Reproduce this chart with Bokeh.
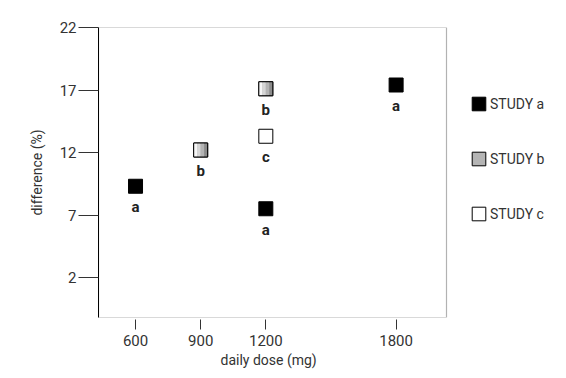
from bokeh.plotting import figure
from bokeh.models import (Range1d, FixedTicker, Legend, LegendItem, ColumnDataSource,
                          BoxAnnotation, Title)
from bokeh.transform import dodge
from bokeh.core.properties import value
from bokeh.embed import file_html
from bokeh.resources import INLINE

# ---- data ----
dose_a = [600, 1200, 1800]
diff_a = [9.3, 7.5, 17.4]
lab_a = ["a", "a", "a"]

dose_b = [900, 1200]
diff_b = [12.2, 17.1]
lab_b = ["b", "b"]

dose_c = [1200]
diff_c = [13.3]
lab_c = ["c"]

x_ticks = [600, 900, 1200, 1800]
y_ticks = [2, 7, 12, 17, 22]

FONT = "Roboto"
TXT = "#333333"

W, H = 566, 374
BL, BT, BB = 98, 27, 57
PX_PER_UNIT = 0.21716          # horizontal scale of the axis
X0 = 429.5                      # left edge of the plot box (dose)
X_BOX_END = 2032                # right edge of the plot box (dose)
X1 = X0 + (W - BL) / PX_PER_UNIT  # frame extends to the page edge for the legend

p = figure(width=W, height=H, output_backend="svg", toolbar_location=None,
           x_range=Range1d(X0, X1), y_range=Range1d(-1.2, 22),
           min_border_left=BL, min_border_right=0, min_border_top=BT, min_border_bottom=BB)
p.grid.visible = False
p.outline_line_color = None
p.background_fill_color = "white"

# visible plot box
p.add_layout(BoxAnnotation(left=X0, right=X_BOX_END, fill_alpha=0,
                           line_color="black", line_width=1.2))

xa = p.xaxis[0]
xa.ticker = FixedTicker(ticks=x_ticks)
xa.minor_tick_line_color = None
xa.major_tick_in = -2
xa.major_tick_out = 12
xa.major_tick_line_color = TXT
xa.axis_line_color = None
xa.major_label_text_font = FONT
xa.major_label_text_font_size = "15px"
xa.major_label_text_color = TXT
xa.major_label_standoff = 5

# x axis title, centred under the visible box
box_w = (X_BOX_END - X0) * PX_PER_UNIT
p.add_layout(Title(text="daily dose (mg)", align="left", offset=box_w / 2 - 52,
                   text_font=FONT, text_font_size="14px", text_font_style="normal",
                   text_color=TXT, standoff=2), "below")

ya = p.yaxis[0]
ya.ticker = FixedTicker(ticks=y_ticks)
ya.minor_tick_line_color = None
ya.major_tick_in = 0
ya.major_tick_out = 20
ya.major_tick_line_color = TXT
ya.axis_line_color = "black"
ya.major_label_text_font = FONT
ya.major_label_text_font_size = "15px"
ya.major_label_text_color = TXT
ya.major_label_standoff = 2
ya.axis_label = "difference (%)"
ya.axis_label_text_font = FONT
ya.axis_label_text_font_size = "14px"
ya.axis_label_text_font_style = "normal"
ya.axis_label_text_color = TXT
ya.axis_label_standoff = 12

SQ = 14
src_a = ColumnDataSource(dict(x=dose_a, y=diff_a, t=lab_a))
src_b = ColumnDataSource(dict(x=dose_b, y=diff_b, t=lab_b))
src_c = ColumnDataSource(dict(x=dose_c, y=diff_c, t=lab_c))

ra = p.rect("x", "y", width=SQ, height=SQ, width_units="screen", height_units="screen",
            source=src_a, fill_color="black", line_color="black")

# study b: grey base square (also its legend swatch), then gradient strips on top
rb_base = p.rect("x", "y", width=SQ, height=SQ, width_units="screen", height_units="screen",
                 source=src_b, fill_color="#b4b4b4", line_color="black")
unit_per_px = 1 / PX_PER_UNIT
strip_cols = ["#f6f6f6", "#d6d6d6", "#b4b4b4", "#8c8c8c"]
strip_offs = [-5.25, -1.75, 1.75, 5.25]
for off, col in zip(strip_offs, strip_cols):
    p.rect(dodge("x", off * unit_per_px), "y", width=3.6, height=SQ, width_units="screen",
           height_units="screen", source=src_b, fill_color=col, line_color=None)
rb = p.rect("x", "y", width=SQ, height=SQ, width_units="screen", height_units="screen",
            source=src_b, fill_alpha=0, line_color="black")
rc = p.rect("x", "y", width=SQ, height=SQ, width_units="screen", height_units="screen",
            source=src_c, fill_color="white", line_color="black")

for s in (src_a, src_b, src_c):
    p.text("x", "y", text="t", source=s, text_font=value(FONT), text_font_style="bold",
           text_font_size="15px", text_color="#222222", text_align="center",
           text_baseline="alphabetic", y_offset=21)

legend = Legend(items=[LegendItem(label="STUDY a", renderers=[ra]),
                       LegendItem(label="STUDY b", renderers=[rb_base]),
                       LegendItem(label="STUDY c", renderers=[rc])],
                location=(372, 95), orientation="vertical",
                glyph_width=17, glyph_height=17, label_height=17, spacing=38,
                label_standoff=3, padding=0, margin=0,
                border_line_color=None, background_fill_alpha=0,
                label_text_font=FONT, label_text_font_size="14px",
                label_text_color=TXT)
p.add_layout(legend, "center")

open("out.html", "w").write(file_html(p, INLINE))
